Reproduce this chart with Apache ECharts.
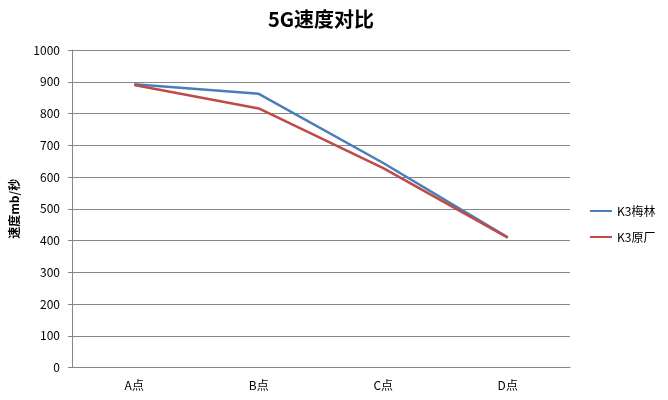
<!DOCTYPE html>
<html><head><meta charset="utf-8">
<script src="https://cdn.jsdelivr.net/npm/echarts@6/dist/echarts.min.js"></script>
<style>html,body{margin:0;padding:0;background:#fff}#c{width:668px;height:400px}</style>
</head><body><div id="c"></div>
<script>
const categories = ['A点', 'B点', 'C点', 'D点'];
const meilin = [892, 862, 644, 410];
const yuanchang = [890, 816, 628, 409];
const seriesNames = ['K3梅林', 'K3原厂'];
const yTicks = { min: 0, max: 1000, interval: 100 };

const font = '"Noto Sans CJK SC", "Noto Sans", sans-serif';
const chart = echarts.init(document.getElementById('c'));
chart.setOption({
  animation: false,
  title: { text: '5G速度对比', left: 316, textAlign: 'center', top: 4,
    textStyle: { fontFamily: font, fontSize: 20, fontWeight: 'bold', color: '#000' } },
  grid: { left: 72, right: 98, top: 50, bottom: 32.5 },
  legend: { orient: 'vertical', left: 585, top: 200, itemWidth: 22, itemHeight: 2, itemGap: 14, icon: 'rect',
    textStyle: { fontFamily: font, fontSize: 12, color: '#000' } },
  xAxis: { type: 'category', data: categories, boundaryGap: true,
    axisLine: { lineStyle: { color: '#868686' } }, axisTick: { show: false },
    axisLabel: { fontFamily: font, fontSize: 12, color: '#000', margin: 12 } },
  yAxis: { type: 'value', min: yTicks.min, max: yTicks.max, interval: yTicks.interval,
    name: '速度mb/秒', nameLocation: 'middle', nameGap: 52, nameRotate: 90,
    nameTextStyle: { fontFamily: font, fontSize: 12, fontWeight: 'bold', color: '#000' },
    axisLine: { show: true, lineStyle: { color: '#868686' } },
    axisTick: { show: true, length: 4, lineStyle: { color: '#868686' } },
    splitLine: { lineStyle: { color: '#868686' } },
    axisLabel: { fontFamily: font, fontSize: 12, color: '#000', margin: 12, formatter: v => String(v) } },
  series: [
    { name: seriesNames[0], type: 'line', data: meilin, symbol: 'none',
      lineStyle: { color: '#4a7ebb', width: 2.5 }, itemStyle: { color: '#4a7ebb' } },
    { name: seriesNames[1], type: 'line', data: yuanchang, symbol: 'none',
      lineStyle: { color: '#be4b48', width: 2.5 }, itemStyle: { color: '#be4b48' } }
  ]
});
</script></body></html>
